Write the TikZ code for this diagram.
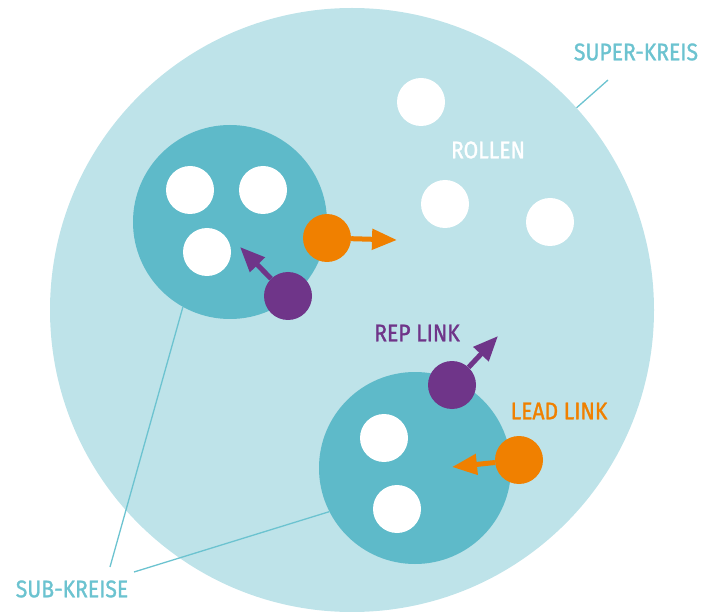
\documentclass[tikz,border=0pt]{standalone}
\usepackage{fontspec}
\setmainfont{Fira Sans}
\newfontfamily\labelfont{Fira Sans}[FakeStretch=0.88, FakeBold=1.2]
\usetikzlibrary{arrows.meta}

\definecolor{superblue}{HTML}{BEE3E9}
\definecolor{subblue}{HTML}{5EBAC9}
\definecolor{labelblue}{HTML}{6CC3D0}
\definecolor{leadorange}{HTML}{F08000}
\definecolor{reppurple}{HTML}{6F3589}

\tikzset{
  rolle/.style={circle, fill=white, minimum size=48pt, inner sep=0pt},
  leadlink/.style={circle, fill=leadorange, minimum size=48pt, inner sep=0pt},
  replink/.style={circle, fill=reppurple, minimum size=48pt, inner sep=0pt},
  linkarrow/.style={line width=5pt, -{Triangle[length=25pt,width=20pt]}},
  pointer/.style={labelblue, line width=1.3pt},
  caption/.style={font=\labelfont\fontsize{24}{26}\selectfont, inner sep=0pt}
}

\begin{document}
\begin{tikzpicture}[x=1pt, y=-1pt]
  \useasboundingbox (0,0) rectangle (715,612);
  \clip (0,0) rectangle (715,612);

  % kreise
  \node[circle, fill=superblue, minimum size=604pt, inner sep=0pt] (super) at (352,310) {};
  \node[circle, fill=subblue, minimum size=194pt, inner sep=0pt] (sub1) at (230,222) {};
  \node[circle, fill=subblue, minimum size=192pt, inner sep=0pt] (sub2) at (415,468) {};

  % rollen
  \foreach[count=\i] \p in {(190,190), (263,190), (207,252), (384,438), (397,509), (421,102), (445,204), (550,222)} {
    \node[rolle] (rolle\i) at \p {};
  }

  % links
  \node[leadlink] (lead1) at (327,238) {};
  \node[replink] (rep1) at (288,296) {};
  \node[replink] (rep2) at (452,385) {};
  \node[leadlink] (lead2) at (519,460) {};
  \coordinate (lead1tip) at (397,240);
  \coordinate (rep1tip) at (240,247);
  \coordinate (rep2tip) at (498,336);
  \coordinate (lead2tip) at (452,467);
  \draw[linkarrow, leadorange] (lead1) -- (lead1tip);
  \draw[linkarrow, reppurple] (rep1) -- (rep1tip);
  \draw[linkarrow, reppurple] (rep2) -- (rep2tip);
  \draw[linkarrow, leadorange] (lead2) -- (lead2tip);

  % beschriftung
  \node[caption, labelblue] (superlabel) at (636,52) {SUPER-KREIS};
  \node[caption, labelblue] (sublabel) at (72,589) {SUB-KREISE};
  \node[caption, white] (rollenlabel) at (488,150) {ROLLEN};
  \node[caption, reppurple] (replabel) at (417,333) {REP LINK};
  \node[caption, leadorange] (leadlabel) at (559,411) {LEAD LINK};

  \coordinate (superend) at (608,80);
  \coordinate (subend1) at (110,567);
  \coordinate (subend2) at (134,572);
  \draw[pointer] (superend) -- (super.42);
  \draw[pointer] (subend1) -- (sub1.-119);
  \draw[pointer] (subend2) -- (sub2.-153);
\end{tikzpicture}
\end{document}
